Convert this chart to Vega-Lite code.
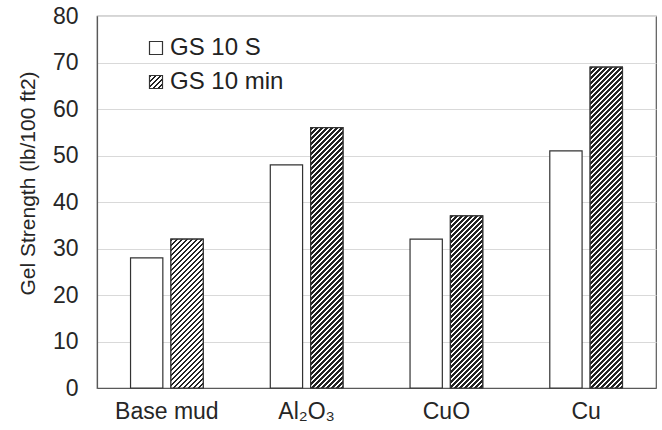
{
  "$schema": "https://vega.github.io/schema/vega-lite/v6.json",
  "width": 559,
  "height": 372,
  "autosize": {"type": "none"},
  "padding": {"left": 97, "top": 16, "right": 6, "bottom": 42},
  "background": "white",
  "config": {
    "font": "Liberation Sans",
    "view": {"stroke": "#595959", "strokeWidth": 1.2},
    "axis": {"domainColor": "#595959", "domainWidth": 1.2, "ticks": false, "tickSize": 0, "labelFont": "Liberation Sans", "labelFontSize": 23, "labelColor": "#262626", "titleFont": "Liberation Sans", "titleFontWeight": "normal", "titleColor": "#262626"},
    "legend": {"title": null, "orient": "none", "symbolType": "square", "symbolSize": 169, "symbolStrokeWidth": 1.2, "labelFont": "Liberation Sans", "labelFontSize": 24, "labelColor": "#222222", "labelOffset": 2, "padding": 0}
  },
  "data": {
    "values": [
      {"material": "Base mud", "series": "GS 10 S", "value": 28},
      {"material": "Base mud", "series": "GS 10 min", "value": 32},
      {"material": "Al₂O₃", "series": "GS 10 S", "value": 48},
      {"material": "Al₂O₃", "series": "GS 10 min", "value": 56},
      {"material": "CuO", "series": "GS 10 S", "value": 32},
      {"material": "CuO", "series": "GS 10 min", "value": 37},
      {"material": "Cu", "series": "GS 10 S", "value": 51},
      {"material": "Cu", "series": "GS 10 min", "value": 69}
    ]
  },
  "encoding": {
    "x": {"field": "material", "type": "nominal", "scale": {"domain": ["Base mud", "Al₂O₃", "CuO", "Cu"], "paddingInner": 0.48, "paddingOuter": 0.24}, "axis": {"title": null, "labelAngle": 0, "labelPadding": 12, "grid": false}},
    "xOffset": {"field": "series", "type": "nominal", "scale": {"domain": ["GS 10 S", "GS 10 min"], "paddingInner": 0.2, "paddingOuter": 0}},
    "y": {"field": "value", "type": "quantitative", "scale": {"domain": [0, 80], "nice": false}, "axis": {"values": [0, 10, 20, 30, 40, 50, 60, 70, 80], "title": "Gel Strength (lb/100 ft2)", "titleFontSize": 21, "titlePadding": 14, "titleY": 167, "labelPadding": 19, "grid": true, "gridColor": "#d9d9d9", "gridWidth": 1}}
  },
  "layer": [
    {
      "transform": [{"filter": "datum.series === 'GS 10 S'"}],
      "mark": {"type": "bar", "stroke": "#333333", "strokeWidth": 1.2},
      "encoding": {
        "fill": {"field": "series", "type": "nominal",
          "scale": {"domain": ["GS 10 S"], "range": ["#ffffff"]},
          "legend": {"legendX": 47, "legendY": 20, "symbolStrokeColor": "#333333"}
        }
      }
    },
    {
      "transform": [{"filter": "datum.series === 'GS 10 min'"}],
      "mark": {"type": "bar", "strokeWidth": 1.2,
        "fill": {"gradient": "linear", "x1": 0, "y1": 0, "x2": 15.385, "y2": 15.385, "stops": [
{"offset":0,"color":"#222"},{"offset":0.006875,"color":"#222"},{"offset":0.006875,"color":"#fff"},{"offset":0.0125,"color":"#fff"},
{"offset":0.0125,"color":"#222"},{"offset":0.019375,"color":"#222"},{"offset":0.019375,"color":"#fff"},{"offset":0.025,"color":"#fff"},
{"offset":0.025,"color":"#222"},{"offset":0.031875,"color":"#222"},{"offset":0.031875,"color":"#fff"},{"offset":0.0375,"color":"#fff"},
{"offset":0.0375,"color":"#222"},{"offset":0.044375,"color":"#222"},{"offset":0.044375,"color":"#fff"},{"offset":0.05,"color":"#fff"},
{"offset":0.05,"color":"#222"},{"offset":0.056875,"color":"#222"},{"offset":0.056875,"color":"#fff"},{"offset":0.0625,"color":"#fff"},
{"offset":0.0625,"color":"#222"},{"offset":0.069375,"color":"#222"},{"offset":0.069375,"color":"#fff"},{"offset":0.075,"color":"#fff"}
        ]}},
      "encoding": {
        "stroke": {"field": "series", "type": "nominal",
          "scale": {"domain": ["GS 10 min"], "range": ["#333333"]},
          "legend": {"legendX": 47, "legendY": 54}
        }
      }
    },
    {
      "transform": [{"filter": "datum.series === 'GS 10 min' && datum.material === 'Base mud'"}],
      "mark": {"type": "bar", "stroke": "#333333", "strokeWidth": 1.2,
        "fill": {"gradient": "linear", "x1": 0, "y1": 0, "x2": 0.5573, "y2": 2.5672, "stops": [
{"offset":0,"color":"#222"},{"offset":0.006875,"color":"#222"},{"offset":0.006875,"color":"#fff"},{"offset":0.0125,"color":"#fff"},
{"offset":0.0125,"color":"#222"},{"offset":0.019375,"color":"#222"},{"offset":0.019375,"color":"#fff"},{"offset":0.025,"color":"#fff"},
{"offset":0.025,"color":"#222"},{"offset":0.031875,"color":"#222"},{"offset":0.031875,"color":"#fff"},{"offset":0.0375,"color":"#fff"},
{"offset":0.0375,"color":"#222"},{"offset":0.044375,"color":"#222"},{"offset":0.044375,"color":"#fff"},{"offset":0.05,"color":"#fff"},
{"offset":0.05,"color":"#222"},{"offset":0.056875,"color":"#222"},{"offset":0.056875,"color":"#fff"},{"offset":0.0625,"color":"#fff"},
{"offset":0.0625,"color":"#222"},{"offset":0.069375,"color":"#222"},{"offset":0.069375,"color":"#fff"},{"offset":0.075,"color":"#fff"},
{"offset":0.075,"color":"#222"},{"offset":0.081875,"color":"#222"},{"offset":0.081875,"color":"#fff"},{"offset":0.0875,"color":"#fff"},
{"offset":0.0875,"color":"#222"},{"offset":0.094375,"color":"#222"},{"offset":0.094375,"color":"#fff"},{"offset":0.1,"color":"#fff"},
{"offset":0.1,"color":"#222"},{"offset":0.106875,"color":"#222"},{"offset":0.106875,"color":"#fff"},{"offset":0.1125,"color":"#fff"},
{"offset":0.1125,"color":"#222"},{"offset":0.119375,"color":"#222"},{"offset":0.119375,"color":"#fff"},{"offset":0.125,"color":"#fff"},
{"offset":0.125,"color":"#222"},{"offset":0.131875,"color":"#222"},{"offset":0.131875,"color":"#fff"},{"offset":0.1375,"color":"#fff"},
{"offset":0.1375,"color":"#222"},{"offset":0.144375,"color":"#222"},{"offset":0.144375,"color":"#fff"},{"offset":0.15,"color":"#fff"},
{"offset":0.15,"color":"#222"},{"offset":0.156875,"color":"#222"},{"offset":0.156875,"color":"#fff"},{"offset":0.1625,"color":"#fff"},
{"offset":0.1625,"color":"#222"},{"offset":0.169375,"color":"#222"},{"offset":0.169375,"color":"#fff"},{"offset":0.175,"color":"#fff"},
{"offset":0.175,"color":"#222"},{"offset":0.181875,"color":"#222"},{"offset":0.181875,"color":"#fff"},{"offset":0.1875,"color":"#fff"},
{"offset":0.1875,"color":"#222"},{"offset":0.194375,"color":"#222"},{"offset":0.194375,"color":"#fff"},{"offset":0.2,"color":"#fff"},
{"offset":0.2,"color":"#222"},{"offset":0.206875,"color":"#222"},{"offset":0.206875,"color":"#fff"},{"offset":0.2125,"color":"#fff"},
{"offset":0.2125,"color":"#222"},{"offset":0.219375,"color":"#222"},{"offset":0.219375,"color":"#fff"},{"offset":0.225,"color":"#fff"},
{"offset":0.225,"color":"#222"},{"offset":0.231875,"color":"#222"},{"offset":0.231875,"color":"#fff"},{"offset":0.2375,"color":"#fff"},
{"offset":0.2375,"color":"#222"},{"offset":0.244375,"color":"#222"},{"offset":0.244375,"color":"#fff"},{"offset":0.25,"color":"#fff"},
{"offset":0.25,"color":"#222"},{"offset":0.256875,"color":"#222"},{"offset":0.256875,"color":"#fff"},{"offset":0.2625,"color":"#fff"},
{"offset":0.2625,"color":"#222"},{"offset":0.269375,"color":"#222"},{"offset":0.269375,"color":"#fff"},{"offset":0.275,"color":"#fff"},
{"offset":0.275,"color":"#222"},{"offset":0.281875,"color":"#222"},{"offset":0.281875,"color":"#fff"},{"offset":0.2875,"color":"#fff"},
{"offset":0.2875,"color":"#222"},{"offset":0.294375,"color":"#222"},{"offset":0.294375,"color":"#fff"},{"offset":0.3,"color":"#fff"},
{"offset":0.3,"color":"#222"},{"offset":0.306875,"color":"#222"},{"offset":0.306875,"color":"#fff"},{"offset":0.3125,"color":"#fff"},
{"offset":0.3125,"color":"#222"},{"offset":0.319375,"color":"#222"},{"offset":0.319375,"color":"#fff"},{"offset":0.325,"color":"#fff"},
{"offset":0.325,"color":"#222"},{"offset":0.331875,"color":"#222"},{"offset":0.331875,"color":"#fff"},{"offset":0.3375,"color":"#fff"},
{"offset":0.3375,"color":"#222"},{"offset":0.344375,"color":"#222"},{"offset":0.344375,"color":"#fff"},{"offset":0.35,"color":"#fff"},
{"offset":0.35,"color":"#222"},{"offset":0.356875,"color":"#222"},{"offset":0.356875,"color":"#fff"},{"offset":0.3625,"color":"#fff"},
{"offset":0.3625,"color":"#222"},{"offset":0.369375,"color":"#222"},{"offset":0.369375,"color":"#fff"},{"offset":0.375,"color":"#fff"},
{"offset":0.375,"color":"#222"},{"offset":0.381875,"color":"#222"},{"offset":0.381875,"color":"#fff"},{"offset":0.3875,"color":"#fff"},
{"offset":0.3875,"color":"#222"},{"offset":0.394375,"color":"#222"},{"offset":0.394375,"color":"#fff"},{"offset":0.4,"color":"#fff"},
{"offset":0.4,"color":"#222"},{"offset":0.406875,"color":"#222"},{"offset":0.406875,"color":"#fff"},{"offset":0.4125,"color":"#fff"},
{"offset":0.4125,"color":"#222"},{"offset":0.419375,"color":"#222"},{"offset":0.419375,"color":"#fff"},{"offset":0.425,"color":"#fff"},
{"offset":0.425,"color":"#222"},{"offset":0.431875,"color":"#222"},{"offset":0.431875,"color":"#fff"},{"offset":0.4375,"color":"#fff"},
{"offset":0.4375,"color":"#222"},{"offset":0.444375,"color":"#222"},{"offset":0.444375,"color":"#fff"},{"offset":0.45,"color":"#fff"},
{"offset":0.45,"color":"#222"},{"offset":0.456875,"color":"#222"},{"offset":0.456875,"color":"#fff"},{"offset":0.4625,"color":"#fff"}
        ]}
      }
    },
    {
      "transform": [{"filter": "datum.series === 'GS 10 min' && datum.material === 'Al₂O₃'"}],
      "mark": {"type": "bar", "stroke": "#333333", "strokeWidth": 1.2,
        "fill": {"gradient": "linear", "x1": 0, "y1": 0, "x2": 0.18765, "y2": 1.51282, "stops": [
{"offset":0,"color":"#222"},{"offset":0.006875,"color":"#222"},{"offset":0.006875,"color":"#fff"},{"offset":0.0125,"color":"#fff"},
{"offset":0.0125,"color":"#222"},{"offset":0.019375,"color":"#222"},{"offset":0.019375,"color":"#fff"},{"offset":0.025,"color":"#fff"},
{"offset":0.025,"color":"#222"},{"offset":0.031875,"color":"#222"},{"offset":0.031875,"color":"#fff"},{"offset":0.0375,"color":"#fff"},
{"offset":0.0375,"color":"#222"},{"offset":0.044375,"color":"#222"},{"offset":0.044375,"color":"#fff"},{"offset":0.05,"color":"#fff"},
{"offset":0.05,"color":"#222"},{"offset":0.056875,"color":"#222"},{"offset":0.056875,"color":"#fff"},{"offset":0.0625,"color":"#fff"},
{"offset":0.0625,"color":"#222"},{"offset":0.069375,"color":"#222"},{"offset":0.069375,"color":"#fff"},{"offset":0.075,"color":"#fff"},
{"offset":0.075,"color":"#222"},{"offset":0.081875,"color":"#222"},{"offset":0.081875,"color":"#fff"},{"offset":0.0875,"color":"#fff"},
{"offset":0.0875,"color":"#222"},{"offset":0.094375,"color":"#222"},{"offset":0.094375,"color":"#fff"},{"offset":0.1,"color":"#fff"},
{"offset":0.1,"color":"#222"},{"offset":0.106875,"color":"#222"},{"offset":0.106875,"color":"#fff"},{"offset":0.1125,"color":"#fff"},
{"offset":0.1125,"color":"#222"},{"offset":0.119375,"color":"#222"},{"offset":0.119375,"color":"#fff"},{"offset":0.125,"color":"#fff"},
{"offset":0.125,"color":"#222"},{"offset":0.131875,"color":"#222"},{"offset":0.131875,"color":"#fff"},{"offset":0.1375,"color":"#fff"},
{"offset":0.1375,"color":"#222"},{"offset":0.144375,"color":"#222"},{"offset":0.144375,"color":"#fff"},{"offset":0.15,"color":"#fff"},
{"offset":0.15,"color":"#222"},{"offset":0.156875,"color":"#222"},{"offset":0.156875,"color":"#fff"},{"offset":0.1625,"color":"#fff"},
{"offset":0.1625,"color":"#222"},{"offset":0.169375,"color":"#222"},{"offset":0.169375,"color":"#fff"},{"offset":0.175,"color":"#fff"},
{"offset":0.175,"color":"#222"},{"offset":0.181875,"color":"#222"},{"offset":0.181875,"color":"#fff"},{"offset":0.1875,"color":"#fff"},
{"offset":0.1875,"color":"#222"},{"offset":0.194375,"color":"#222"},{"offset":0.194375,"color":"#fff"},{"offset":0.2,"color":"#fff"},
{"offset":0.2,"color":"#222"},{"offset":0.206875,"color":"#222"},{"offset":0.206875,"color":"#fff"},{"offset":0.2125,"color":"#fff"},
{"offset":0.2125,"color":"#222"},{"offset":0.219375,"color":"#222"},{"offset":0.219375,"color":"#fff"},{"offset":0.225,"color":"#fff"},
{"offset":0.225,"color":"#222"},{"offset":0.231875,"color":"#222"},{"offset":0.231875,"color":"#fff"},{"offset":0.2375,"color":"#fff"},
{"offset":0.2375,"color":"#222"},{"offset":0.244375,"color":"#222"},{"offset":0.244375,"color":"#fff"},{"offset":0.25,"color":"#fff"},
{"offset":0.25,"color":"#222"},{"offset":0.256875,"color":"#222"},{"offset":0.256875,"color":"#fff"},{"offset":0.2625,"color":"#fff"},
{"offset":0.2625,"color":"#222"},{"offset":0.269375,"color":"#222"},{"offset":0.269375,"color":"#fff"},{"offset":0.275,"color":"#fff"},
{"offset":0.275,"color":"#222"},{"offset":0.281875,"color":"#222"},{"offset":0.281875,"color":"#fff"},{"offset":0.2875,"color":"#fff"},
{"offset":0.2875,"color":"#222"},{"offset":0.294375,"color":"#222"},{"offset":0.294375,"color":"#fff"},{"offset":0.3,"color":"#fff"},
{"offset":0.3,"color":"#222"},{"offset":0.306875,"color":"#222"},{"offset":0.306875,"color":"#fff"},{"offset":0.3125,"color":"#fff"},
{"offset":0.3125,"color":"#222"},{"offset":0.319375,"color":"#222"},{"offset":0.319375,"color":"#fff"},{"offset":0.325,"color":"#fff"},
{"offset":0.325,"color":"#222"},{"offset":0.331875,"color":"#222"},{"offset":0.331875,"color":"#fff"},{"offset":0.3375,"color":"#fff"},
{"offset":0.3375,"color":"#222"},{"offset":0.344375,"color":"#222"},{"offset":0.344375,"color":"#fff"},{"offset":0.35,"color":"#fff"},
{"offset":0.35,"color":"#222"},{"offset":0.356875,"color":"#222"},{"offset":0.356875,"color":"#fff"},{"offset":0.3625,"color":"#fff"},
{"offset":0.3625,"color":"#222"},{"offset":0.369375,"color":"#222"},{"offset":0.369375,"color":"#fff"},{"offset":0.375,"color":"#fff"},
{"offset":0.375,"color":"#222"},{"offset":0.381875,"color":"#222"},{"offset":0.381875,"color":"#fff"},{"offset":0.3875,"color":"#fff"},
{"offset":0.3875,"color":"#222"},{"offset":0.394375,"color":"#222"},{"offset":0.394375,"color":"#fff"},{"offset":0.4,"color":"#fff"},
{"offset":0.4,"color":"#222"},{"offset":0.406875,"color":"#222"},{"offset":0.406875,"color":"#fff"},{"offset":0.4125,"color":"#fff"},
{"offset":0.4125,"color":"#222"},{"offset":0.419375,"color":"#222"},{"offset":0.419375,"color":"#fff"},{"offset":0.425,"color":"#fff"},
{"offset":0.425,"color":"#222"},{"offset":0.431875,"color":"#222"},{"offset":0.431875,"color":"#fff"},{"offset":0.4375,"color":"#fff"},
{"offset":0.4375,"color":"#222"},{"offset":0.444375,"color":"#222"},{"offset":0.444375,"color":"#fff"},{"offset":0.45,"color":"#fff"},
{"offset":0.45,"color":"#222"},{"offset":0.456875,"color":"#222"},{"offset":0.456875,"color":"#fff"},{"offset":0.4625,"color":"#fff"},
{"offset":0.4625,"color":"#222"},{"offset":0.469375,"color":"#222"},{"offset":0.469375,"color":"#fff"},{"offset":0.475,"color":"#fff"},
{"offset":0.475,"color":"#222"},{"offset":0.481875,"color":"#222"},{"offset":0.481875,"color":"#fff"},{"offset":0.4875,"color":"#fff"},
{"offset":0.4875,"color":"#222"},{"offset":0.494375,"color":"#222"},{"offset":0.494375,"color":"#fff"},{"offset":0.5,"color":"#fff"},
{"offset":0.5,"color":"#222"},{"offset":0.506875,"color":"#222"},{"offset":0.506875,"color":"#fff"},{"offset":0.5125,"color":"#fff"},
{"offset":0.5125,"color":"#222"},{"offset":0.519375,"color":"#222"},{"offset":0.519375,"color":"#fff"},{"offset":0.525,"color":"#fff"},
{"offset":0.525,"color":"#222"},{"offset":0.531875,"color":"#222"},{"offset":0.531875,"color":"#fff"},{"offset":0.5375,"color":"#fff"},
{"offset":0.5375,"color":"#222"},{"offset":0.544375,"color":"#222"},{"offset":0.544375,"color":"#fff"},{"offset":0.55,"color":"#fff"},
{"offset":0.55,"color":"#222"},{"offset":0.556875,"color":"#222"},{"offset":0.556875,"color":"#fff"},{"offset":0.5625,"color":"#fff"},
{"offset":0.5625,"color":"#222"},{"offset":0.569375,"color":"#222"},{"offset":0.569375,"color":"#fff"},{"offset":0.575,"color":"#fff"},
{"offset":0.575,"color":"#222"},{"offset":0.581875,"color":"#222"},{"offset":0.581875,"color":"#fff"},{"offset":0.5875,"color":"#fff"},
{"offset":0.5875,"color":"#222"},{"offset":0.594375,"color":"#222"},{"offset":0.594375,"color":"#fff"},{"offset":0.6,"color":"#fff"},
{"offset":0.6,"color":"#222"},{"offset":0.606875,"color":"#222"},{"offset":0.606875,"color":"#fff"},{"offset":0.6125,"color":"#fff"},
{"offset":0.6125,"color":"#222"},{"offset":0.619375,"color":"#222"},{"offset":0.619375,"color":"#fff"},{"offset":0.625,"color":"#fff"},
{"offset":0.625,"color":"#222"},{"offset":0.631875,"color":"#222"},{"offset":0.631875,"color":"#fff"},{"offset":0.6375,"color":"#fff"},
{"offset":0.6375,"color":"#222"},{"offset":0.644375,"color":"#222"},{"offset":0.644375,"color":"#fff"},{"offset":0.65,"color":"#fff"},
{"offset":0.65,"color":"#222"},{"offset":0.656875,"color":"#222"},{"offset":0.656875,"color":"#fff"},{"offset":0.6625,"color":"#fff"},
{"offset":0.6625,"color":"#222"},{"offset":0.669375,"color":"#222"},{"offset":0.669375,"color":"#fff"},{"offset":0.675,"color":"#fff"},
{"offset":0.675,"color":"#222"},{"offset":0.681875,"color":"#222"},{"offset":0.681875,"color":"#fff"},{"offset":0.6875,"color":"#fff"},
{"offset":0.6875,"color":"#222"},{"offset":0.694375,"color":"#222"},{"offset":0.694375,"color":"#fff"},{"offset":0.7,"color":"#fff"},
{"offset":0.7,"color":"#222"},{"offset":0.706875,"color":"#222"},{"offset":0.706875,"color":"#fff"},{"offset":0.7125,"color":"#fff"},
{"offset":0.7125,"color":"#222"},{"offset":0.719375,"color":"#222"},{"offset":0.719375,"color":"#fff"},{"offset":0.725,"color":"#fff"},
{"offset":0.725,"color":"#222"},{"offset":0.731875,"color":"#222"},{"offset":0.731875,"color":"#fff"},{"offset":0.7375,"color":"#fff"}
        ]}
      }
    },
    {
      "transform": [{"filter": "datum.series === 'GS 10 min' && datum.material === 'CuO'"}],
      "mark": {"type": "bar", "stroke": "#333333", "strokeWidth": 1.2,
        "fill": {"gradient": "linear", "x1": 0, "y1": 0, "x2": 0.42161, "y2": 2.24576, "stops": [
{"offset":0,"color":"#222"},{"offset":0.006875,"color":"#222"},{"offset":0.006875,"color":"#fff"},{"offset":0.0125,"color":"#fff"},
{"offset":0.0125,"color":"#222"},{"offset":0.019375,"color":"#222"},{"offset":0.019375,"color":"#fff"},{"offset":0.025,"color":"#fff"},
{"offset":0.025,"color":"#222"},{"offset":0.031875,"color":"#222"},{"offset":0.031875,"color":"#fff"},{"offset":0.0375,"color":"#fff"},
{"offset":0.0375,"color":"#222"},{"offset":0.044375,"color":"#222"},{"offset":0.044375,"color":"#fff"},{"offset":0.05,"color":"#fff"},
{"offset":0.05,"color":"#222"},{"offset":0.056875,"color":"#222"},{"offset":0.056875,"color":"#fff"},{"offset":0.0625,"color":"#fff"},
{"offset":0.0625,"color":"#222"},{"offset":0.069375,"color":"#222"},{"offset":0.069375,"color":"#fff"},{"offset":0.075,"color":"#fff"},
{"offset":0.075,"color":"#222"},{"offset":0.081875,"color":"#222"},{"offset":0.081875,"color":"#fff"},{"offset":0.0875,"color":"#fff"},
{"offset":0.0875,"color":"#222"},{"offset":0.094375,"color":"#222"},{"offset":0.094375,"color":"#fff"},{"offset":0.1,"color":"#fff"},
{"offset":0.1,"color":"#222"},{"offset":0.106875,"color":"#222"},{"offset":0.106875,"color":"#fff"},{"offset":0.1125,"color":"#fff"},
{"offset":0.1125,"color":"#222"},{"offset":0.119375,"color":"#222"},{"offset":0.119375,"color":"#fff"},{"offset":0.125,"color":"#fff"},
{"offset":0.125,"color":"#222"},{"offset":0.131875,"color":"#222"},{"offset":0.131875,"color":"#fff"},{"offset":0.1375,"color":"#fff"},
{"offset":0.1375,"color":"#222"},{"offset":0.144375,"color":"#222"},{"offset":0.144375,"color":"#fff"},{"offset":0.15,"color":"#fff"},
{"offset":0.15,"color":"#222"},{"offset":0.156875,"color":"#222"},{"offset":0.156875,"color":"#fff"},{"offset":0.1625,"color":"#fff"},
{"offset":0.1625,"color":"#222"},{"offset":0.169375,"color":"#222"},{"offset":0.169375,"color":"#fff"},{"offset":0.175,"color":"#fff"},
{"offset":0.175,"color":"#222"},{"offset":0.181875,"color":"#222"},{"offset":0.181875,"color":"#fff"},{"offset":0.1875,"color":"#fff"},
{"offset":0.1875,"color":"#222"},{"offset":0.194375,"color":"#222"},{"offset":0.194375,"color":"#fff"},{"offset":0.2,"color":"#fff"},
{"offset":0.2,"color":"#222"},{"offset":0.206875,"color":"#222"},{"offset":0.206875,"color":"#fff"},{"offset":0.2125,"color":"#fff"},
{"offset":0.2125,"color":"#222"},{"offset":0.219375,"color":"#222"},{"offset":0.219375,"color":"#fff"},{"offset":0.225,"color":"#fff"},
{"offset":0.225,"color":"#222"},{"offset":0.231875,"color":"#222"},{"offset":0.231875,"color":"#fff"},{"offset":0.2375,"color":"#fff"},
{"offset":0.2375,"color":"#222"},{"offset":0.244375,"color":"#222"},{"offset":0.244375,"color":"#fff"},{"offset":0.25,"color":"#fff"},
{"offset":0.25,"color":"#222"},{"offset":0.256875,"color":"#222"},{"offset":0.256875,"color":"#fff"},{"offset":0.2625,"color":"#fff"},
{"offset":0.2625,"color":"#222"},{"offset":0.269375,"color":"#222"},{"offset":0.269375,"color":"#fff"},{"offset":0.275,"color":"#fff"},
{"offset":0.275,"color":"#222"},{"offset":0.281875,"color":"#222"},{"offset":0.281875,"color":"#fff"},{"offset":0.2875,"color":"#fff"},
{"offset":0.2875,"color":"#222"},{"offset":0.294375,"color":"#222"},{"offset":0.294375,"color":"#fff"},{"offset":0.3,"color":"#fff"},
{"offset":0.3,"color":"#222"},{"offset":0.306875,"color":"#222"},{"offset":0.306875,"color":"#fff"},{"offset":0.3125,"color":"#fff"},
{"offset":0.3125,"color":"#222"},{"offset":0.319375,"color":"#222"},{"offset":0.319375,"color":"#fff"},{"offset":0.325,"color":"#fff"},
{"offset":0.325,"color":"#222"},{"offset":0.331875,"color":"#222"},{"offset":0.331875,"color":"#fff"},{"offset":0.3375,"color":"#fff"},
{"offset":0.3375,"color":"#222"},{"offset":0.344375,"color":"#222"},{"offset":0.344375,"color":"#fff"},{"offset":0.35,"color":"#fff"},
{"offset":0.35,"color":"#222"},{"offset":0.356875,"color":"#222"},{"offset":0.356875,"color":"#fff"},{"offset":0.3625,"color":"#fff"},
{"offset":0.3625,"color":"#222"},{"offset":0.369375,"color":"#222"},{"offset":0.369375,"color":"#fff"},{"offset":0.375,"color":"#fff"},
{"offset":0.375,"color":"#222"},{"offset":0.381875,"color":"#222"},{"offset":0.381875,"color":"#fff"},{"offset":0.3875,"color":"#fff"},
{"offset":0.3875,"color":"#222"},{"offset":0.394375,"color":"#222"},{"offset":0.394375,"color":"#fff"},{"offset":0.4,"color":"#fff"},
{"offset":0.4,"color":"#222"},{"offset":0.406875,"color":"#222"},{"offset":0.406875,"color":"#fff"},{"offset":0.4125,"color":"#fff"},
{"offset":0.4125,"color":"#222"},{"offset":0.419375,"color":"#222"},{"offset":0.419375,"color":"#fff"},{"offset":0.425,"color":"#fff"},
{"offset":0.425,"color":"#222"},{"offset":0.431875,"color":"#222"},{"offset":0.431875,"color":"#fff"},{"offset":0.4375,"color":"#fff"},
{"offset":0.4375,"color":"#222"},{"offset":0.444375,"color":"#222"},{"offset":0.444375,"color":"#fff"},{"offset":0.45,"color":"#fff"},
{"offset":0.45,"color":"#222"},{"offset":0.456875,"color":"#222"},{"offset":0.456875,"color":"#fff"},{"offset":0.4625,"color":"#fff"},
{"offset":0.4625,"color":"#222"},{"offset":0.469375,"color":"#222"},{"offset":0.469375,"color":"#fff"},{"offset":0.475,"color":"#fff"},
{"offset":0.475,"color":"#222"},{"offset":0.481875,"color":"#222"},{"offset":0.481875,"color":"#fff"},{"offset":0.4875,"color":"#fff"},
{"offset":0.4875,"color":"#222"},{"offset":0.494375,"color":"#222"},{"offset":0.494375,"color":"#fff"},{"offset":0.5,"color":"#fff"},
{"offset":0.5,"color":"#222"},{"offset":0.506875,"color":"#222"},{"offset":0.506875,"color":"#fff"},{"offset":0.5125,"color":"#fff"}
        ]}
      }
    },
    {
      "transform": [{"filter": "datum.series === 'GS 10 min' && datum.material === 'Cu'"}],
      "mark": {"type": "bar", "stroke": "#333333", "strokeWidth": 1.2,
        "fill": {"gradient": "linear", "x1": 0, "y1": 0, "x2": 0.124245, "y2": 1.23418, "stops": [
{"offset":0,"color":"#222"},{"offset":0.006875,"color":"#222"},{"offset":0.006875,"color":"#fff"},{"offset":0.0125,"color":"#fff"},
{"offset":0.0125,"color":"#222"},{"offset":0.019375,"color":"#222"},{"offset":0.019375,"color":"#fff"},{"offset":0.025,"color":"#fff"},
{"offset":0.025,"color":"#222"},{"offset":0.031875,"color":"#222"},{"offset":0.031875,"color":"#fff"},{"offset":0.0375,"color":"#fff"},
{"offset":0.0375,"color":"#222"},{"offset":0.044375,"color":"#222"},{"offset":0.044375,"color":"#fff"},{"offset":0.05,"color":"#fff"},
{"offset":0.05,"color":"#222"},{"offset":0.056875,"color":"#222"},{"offset":0.056875,"color":"#fff"},{"offset":0.0625,"color":"#fff"},
{"offset":0.0625,"color":"#222"},{"offset":0.069375,"color":"#222"},{"offset":0.069375,"color":"#fff"},{"offset":0.075,"color":"#fff"},
{"offset":0.075,"color":"#222"},{"offset":0.081875,"color":"#222"},{"offset":0.081875,"color":"#fff"},{"offset":0.0875,"color":"#fff"},
{"offset":0.0875,"color":"#222"},{"offset":0.094375,"color":"#222"},{"offset":0.094375,"color":"#fff"},{"offset":0.1,"color":"#fff"},
{"offset":0.1,"color":"#222"},{"offset":0.106875,"color":"#222"},{"offset":0.106875,"color":"#fff"},{"offset":0.1125,"color":"#fff"},
{"offset":0.1125,"color":"#222"},{"offset":0.119375,"color":"#222"},{"offset":0.119375,"color":"#fff"},{"offset":0.125,"color":"#fff"},
{"offset":0.125,"color":"#222"},{"offset":0.131875,"color":"#222"},{"offset":0.131875,"color":"#fff"},{"offset":0.1375,"color":"#fff"},
{"offset":0.1375,"color":"#222"},{"offset":0.144375,"color":"#222"},{"offset":0.144375,"color":"#fff"},{"offset":0.15,"color":"#fff"},
{"offset":0.15,"color":"#222"},{"offset":0.156875,"color":"#222"},{"offset":0.156875,"color":"#fff"},{"offset":0.1625,"color":"#fff"},
{"offset":0.1625,"color":"#222"},{"offset":0.169375,"color":"#222"},{"offset":0.169375,"color":"#fff"},{"offset":0.175,"color":"#fff"},
{"offset":0.175,"color":"#222"},{"offset":0.181875,"color":"#222"},{"offset":0.181875,"color":"#fff"},{"offset":0.1875,"color":"#fff"},
{"offset":0.1875,"color":"#222"},{"offset":0.194375,"color":"#222"},{"offset":0.194375,"color":"#fff"},{"offset":0.2,"color":"#fff"},
{"offset":0.2,"color":"#222"},{"offset":0.206875,"color":"#222"},{"offset":0.206875,"color":"#fff"},{"offset":0.2125,"color":"#fff"},
{"offset":0.2125,"color":"#222"},{"offset":0.219375,"color":"#222"},{"offset":0.219375,"color":"#fff"},{"offset":0.225,"color":"#fff"},
{"offset":0.225,"color":"#222"},{"offset":0.231875,"color":"#222"},{"offset":0.231875,"color":"#fff"},{"offset":0.2375,"color":"#fff"},
{"offset":0.2375,"color":"#222"},{"offset":0.244375,"color":"#222"},{"offset":0.244375,"color":"#fff"},{"offset":0.25,"color":"#fff"},
{"offset":0.25,"color":"#222"},{"offset":0.256875,"color":"#222"},{"offset":0.256875,"color":"#fff"},{"offset":0.2625,"color":"#fff"},
{"offset":0.2625,"color":"#222"},{"offset":0.269375,"color":"#222"},{"offset":0.269375,"color":"#fff"},{"offset":0.275,"color":"#fff"},
{"offset":0.275,"color":"#222"},{"offset":0.281875,"color":"#222"},{"offset":0.281875,"color":"#fff"},{"offset":0.2875,"color":"#fff"},
{"offset":0.2875,"color":"#222"},{"offset":0.294375,"color":"#222"},{"offset":0.294375,"color":"#fff"},{"offset":0.3,"color":"#fff"},
{"offset":0.3,"color":"#222"},{"offset":0.306875,"color":"#222"},{"offset":0.306875,"color":"#fff"},{"offset":0.3125,"color":"#fff"},
{"offset":0.3125,"color":"#222"},{"offset":0.319375,"color":"#222"},{"offset":0.319375,"color":"#fff"},{"offset":0.325,"color":"#fff"},
{"offset":0.325,"color":"#222"},{"offset":0.331875,"color":"#222"},{"offset":0.331875,"color":"#fff"},{"offset":0.3375,"color":"#fff"},
{"offset":0.3375,"color":"#222"},{"offset":0.344375,"color":"#222"},{"offset":0.344375,"color":"#fff"},{"offset":0.35,"color":"#fff"},
{"offset":0.35,"color":"#222"},{"offset":0.356875,"color":"#222"},{"offset":0.356875,"color":"#fff"},{"offset":0.3625,"color":"#fff"},
{"offset":0.3625,"color":"#222"},{"offset":0.369375,"color":"#222"},{"offset":0.369375,"color":"#fff"},{"offset":0.375,"color":"#fff"},
{"offset":0.375,"color":"#222"},{"offset":0.381875,"color":"#222"},{"offset":0.381875,"color":"#fff"},{"offset":0.3875,"color":"#fff"},
{"offset":0.3875,"color":"#222"},{"offset":0.394375,"color":"#222"},{"offset":0.394375,"color":"#fff"},{"offset":0.4,"color":"#fff"},
{"offset":0.4,"color":"#222"},{"offset":0.406875,"color":"#222"},{"offset":0.406875,"color":"#fff"},{"offset":0.4125,"color":"#fff"},
{"offset":0.4125,"color":"#222"},{"offset":0.419375,"color":"#222"},{"offset":0.419375,"color":"#fff"},{"offset":0.425,"color":"#fff"},
{"offset":0.425,"color":"#222"},{"offset":0.431875,"color":"#222"},{"offset":0.431875,"color":"#fff"},{"offset":0.4375,"color":"#fff"},
{"offset":0.4375,"color":"#222"},{"offset":0.444375,"color":"#222"},{"offset":0.444375,"color":"#fff"},{"offset":0.45,"color":"#fff"},
{"offset":0.45,"color":"#222"},{"offset":0.456875,"color":"#222"},{"offset":0.456875,"color":"#fff"},{"offset":0.4625,"color":"#fff"},
{"offset":0.4625,"color":"#222"},{"offset":0.469375,"color":"#222"},{"offset":0.469375,"color":"#fff"},{"offset":0.475,"color":"#fff"},
{"offset":0.475,"color":"#222"},{"offset":0.481875,"color":"#222"},{"offset":0.481875,"color":"#fff"},{"offset":0.4875,"color":"#fff"},
{"offset":0.4875,"color":"#222"},{"offset":0.494375,"color":"#222"},{"offset":0.494375,"color":"#fff"},{"offset":0.5,"color":"#fff"},
{"offset":0.5,"color":"#222"},{"offset":0.506875,"color":"#222"},{"offset":0.506875,"color":"#fff"},{"offset":0.5125,"color":"#fff"},
{"offset":0.5125,"color":"#222"},{"offset":0.519375,"color":"#222"},{"offset":0.519375,"color":"#fff"},{"offset":0.525,"color":"#fff"},
{"offset":0.525,"color":"#222"},{"offset":0.531875,"color":"#222"},{"offset":0.531875,"color":"#fff"},{"offset":0.5375,"color":"#fff"},
{"offset":0.5375,"color":"#222"},{"offset":0.544375,"color":"#222"},{"offset":0.544375,"color":"#fff"},{"offset":0.55,"color":"#fff"},
{"offset":0.55,"color":"#222"},{"offset":0.556875,"color":"#222"},{"offset":0.556875,"color":"#fff"},{"offset":0.5625,"color":"#fff"},
{"offset":0.5625,"color":"#222"},{"offset":0.569375,"color":"#222"},{"offset":0.569375,"color":"#fff"},{"offset":0.575,"color":"#fff"},
{"offset":0.575,"color":"#222"},{"offset":0.581875,"color":"#222"},{"offset":0.581875,"color":"#fff"},{"offset":0.5875,"color":"#fff"},
{"offset":0.5875,"color":"#222"},{"offset":0.594375,"color":"#222"},{"offset":0.594375,"color":"#fff"},{"offset":0.6,"color":"#fff"},
{"offset":0.6,"color":"#222"},{"offset":0.606875,"color":"#222"},{"offset":0.606875,"color":"#fff"},{"offset":0.6125,"color":"#fff"},
{"offset":0.6125,"color":"#222"},{"offset":0.619375,"color":"#222"},{"offset":0.619375,"color":"#fff"},{"offset":0.625,"color":"#fff"},
{"offset":0.625,"color":"#222"},{"offset":0.631875,"color":"#222"},{"offset":0.631875,"color":"#fff"},{"offset":0.6375,"color":"#fff"},
{"offset":0.6375,"color":"#222"},{"offset":0.644375,"color":"#222"},{"offset":0.644375,"color":"#fff"},{"offset":0.65,"color":"#fff"},
{"offset":0.65,"color":"#222"},{"offset":0.656875,"color":"#222"},{"offset":0.656875,"color":"#fff"},{"offset":0.6625,"color":"#fff"},
{"offset":0.6625,"color":"#222"},{"offset":0.669375,"color":"#222"},{"offset":0.669375,"color":"#fff"},{"offset":0.675,"color":"#fff"},
{"offset":0.675,"color":"#222"},{"offset":0.681875,"color":"#222"},{"offset":0.681875,"color":"#fff"},{"offset":0.6875,"color":"#fff"},
{"offset":0.6875,"color":"#222"},{"offset":0.694375,"color":"#222"},{"offset":0.694375,"color":"#fff"},{"offset":0.7,"color":"#fff"},
{"offset":0.7,"color":"#222"},{"offset":0.706875,"color":"#222"},{"offset":0.706875,"color":"#fff"},{"offset":0.7125,"color":"#fff"},
{"offset":0.7125,"color":"#222"},{"offset":0.719375,"color":"#222"},{"offset":0.719375,"color":"#fff"},{"offset":0.725,"color":"#fff"},
{"offset":0.725,"color":"#222"},{"offset":0.731875,"color":"#222"},{"offset":0.731875,"color":"#fff"},{"offset":0.7375,"color":"#fff"},
{"offset":0.7375,"color":"#222"},{"offset":0.744375,"color":"#222"},{"offset":0.744375,"color":"#fff"},{"offset":0.75,"color":"#fff"},
{"offset":0.75,"color":"#222"},{"offset":0.756875,"color":"#222"},{"offset":0.756875,"color":"#fff"},{"offset":0.7625,"color":"#fff"},
{"offset":0.7625,"color":"#222"},{"offset":0.769375,"color":"#222"},{"offset":0.769375,"color":"#fff"},{"offset":0.775,"color":"#fff"},
{"offset":0.775,"color":"#222"},{"offset":0.781875,"color":"#222"},{"offset":0.781875,"color":"#fff"},{"offset":0.7875,"color":"#fff"},
{"offset":0.7875,"color":"#222"},{"offset":0.794375,"color":"#222"},{"offset":0.794375,"color":"#fff"},{"offset":0.8,"color":"#fff"},
{"offset":0.8,"color":"#222"},{"offset":0.806875,"color":"#222"},{"offset":0.806875,"color":"#fff"},{"offset":0.8125,"color":"#fff"},
{"offset":0.8125,"color":"#222"},{"offset":0.819375,"color":"#222"},{"offset":0.819375,"color":"#fff"},{"offset":0.825,"color":"#fff"},
{"offset":0.825,"color":"#222"},{"offset":0.831875,"color":"#222"},{"offset":0.831875,"color":"#fff"},{"offset":0.8375,"color":"#fff"},
{"offset":0.8375,"color":"#222"},{"offset":0.844375,"color":"#222"},{"offset":0.844375,"color":"#fff"},{"offset":0.85,"color":"#fff"},
{"offset":0.85,"color":"#222"},{"offset":0.856875,"color":"#222"},{"offset":0.856875,"color":"#fff"},{"offset":0.8625,"color":"#fff"},
{"offset":0.8625,"color":"#222"},{"offset":0.869375,"color":"#222"},{"offset":0.869375,"color":"#fff"},{"offset":0.875,"color":"#fff"},
{"offset":0.875,"color":"#222"},{"offset":0.881875,"color":"#222"},{"offset":0.881875,"color":"#fff"},{"offset":0.8875,"color":"#fff"}
        ]}
      }
    }
  ]
}
